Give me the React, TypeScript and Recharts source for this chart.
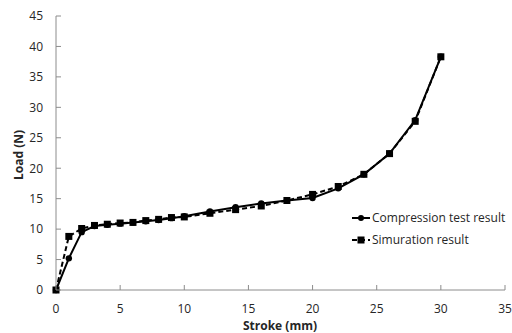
import React from 'react';
import { LineChart, Line, XAxis, YAxis, Label } from 'recharts';

const strokeMm = [0, 1, 2, 3, 4, 5, 6, 7, 8, 9, 10, 12, 14, 16, 18, 20, 22, 24, 26, 28, 30];
const compressionLoad = [0, 5.2, 9.5, 10.5, 10.7, 10.9, 11.1, 11.3, 11.5, 11.8, 12.1, 12.9, 13.6, 14.2, 14.7, 15.1, 16.7, 19.0, 22.4, 27.9, 38.3];
const simulationLoad = [0, 8.8, 10.1, 10.6, 10.8, 11.0, 11.1, 11.4, 11.6, 11.9, 12.0, 12.6, 13.2, 13.8, 14.7, 15.7, 17.0, 19.0, 22.4, 27.7, 38.3];
const xTicks = [0, 5, 10, 15, 20, 25, 30, 35];
const yTicks = [0, 5, 10, 15, 20, 25, 30, 35, 40, 45];
const seriesNames = ['Compression test result', 'Simuration result'];

const data = strokeMm.map((x, i) => ({ x, comp: compressionLoad[i], sim: simulationLoad[i] }));

const FONT = '"Open Sans", sans-serif';
const TEXT = '#262626';
const AXIS = '#8c8c8c';
const Y_MARGIN = 13;
const X_MARGIN = 14;

const YTick = (props: any) => {
  const { x, y, payload } = props;
  const ax = x + Y_MARGIN;
  return (
    <g>
      <line x1={ax} x2={ax + 5} y1={y} y2={y} stroke={AXIS} strokeWidth={1} />
      <text x={x} y={y} dy={4.3} textAnchor="end" fontFamily={FONT} fontSize={12} fill={TEXT}>
        {payload.value}
      </text>
    </g>
  );
};

const XTick = (props: any) => {
  const { x, y, payload } = props;
  const ay = y - X_MARGIN;
  return (
    <g>
      <line x1={x} x2={x} y1={ay} y2={ay - 5} stroke={AXIS} strokeWidth={1} />
      <text x={x} y={y} dy={9} textAnchor="middle" fontFamily={FONT} fontSize={12} fill={TEXT}>
        {payload.value}
      </text>
    </g>
  );
};

const SquareDot = (props: any) => {
  const { cx, cy } = props;
  if (cx == null || cy == null) return null;
  return <rect x={cx - 3.5} y={cy - 3.5} width={7} height={7} fill="#000" />;
};

const CircleDot = (props: any) => {
  const { cx, cy } = props;
  if (cx == null || cy == null) return null;
  return <circle cx={cx} cy={cy} r={3.2} fill="#000" />;
};

const LegendBox = () => (
  <svg width={162} height={44} style={{ position: 'absolute', left: 350, top: 208, overflow: 'visible' }}>
    <g>
      <line x1={2} x2={20} y1={10} y2={10} stroke="#000" strokeWidth={2} />
      <circle cx={11} cy={10} r={3} fill="#000" />
      <text x={22} y={10} dy={4.3} fontFamily={FONT} fontSize={12} fill={TEXT}>{seriesNames[0]}</text>
    </g>
    <g>
      <line x1={2} x2={20} y1={32} y2={32} stroke="#000" strokeWidth={2} strokeDasharray="5 3" />
      <rect x={7.5} y={28.5} width={7} height={7} fill="#000" />
      <text x={22} y={32} dy={4.3} fontFamily={FONT} fontSize={12} fill={TEXT}>{seriesNames[1]}</text>
    </g>
  </svg>
);

export default function App() {
  return (
    <div style={{ position: 'absolute', left: 0, top: 0, width: 512, height: 333, background: '#fff' }}>
      <LineChart width={512} height={333} data={data} margin={{ top: 16, right: 7, bottom: 0, left: 0 }}>
        <XAxis
          dataKey="x"
          type="number"
          domain={[0, 35]}
          ticks={xTicks}
          interval={0}
          tickSize={0}
          tickMargin={X_MARGIN}
          tickLine={false}
          tick={<XTick />}
          stroke={AXIS}
          height={43}
        >
          <Label
            content={() => (
              <text x={280} y={330} textAnchor="middle" fontFamily={FONT} fontSize={12} fontWeight="bold" fill={TEXT}>
                Stroke (mm)
              </text>
            )}
          />
        </XAxis>
        <YAxis
          type="number"
          domain={[0, 45]}
          ticks={yTicks}
          interval={0}
          tickSize={0}
          tickMargin={Y_MARGIN}
          tickLine={false}
          tick={<YTick />}
          stroke={AXIS}
          width={56}
        >
          <Label
            content={() => (
              <text
                x={18}
                y={155}
                transform="rotate(-90 18 155)"
                textAnchor="middle"
                dominantBaseline="central"
                fontFamily={FONT}
                fontSize={12}
                fontWeight="bold"
                fill={TEXT}
              >
                Load (N)
              </text>
            )}
          />
        </YAxis>
        <Line
          dataKey="comp"
          name={seriesNames[0]}
          stroke="#000"
          strokeWidth={2}
          dot={<CircleDot />}
          activeDot={false}
          isAnimationActive={false}
        />
        <Line
          dataKey="sim"
          name={seriesNames[1]}
          stroke="#000"
          strokeWidth={2}
          strokeDasharray="5 3"
          dot={<SquareDot />}
          activeDot={false}
          isAnimationActive={false}
        />
      </LineChart>
      <LegendBox />
    </div>
  );
}
